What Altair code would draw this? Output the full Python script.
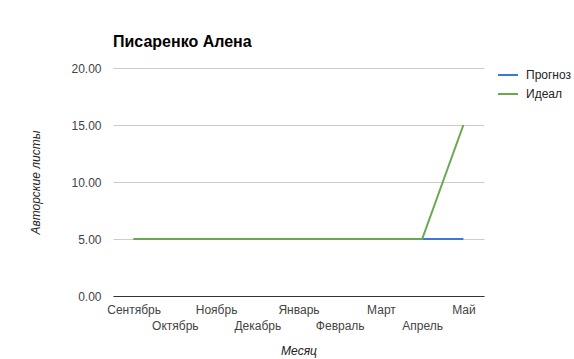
import altair as alt
import pandas as pd

months = ["Сентябрь", "Октябрь", "Ноябрь", "Декабрь", "Январь", "Февраль", "Март", "Апрель", "Май"]
forecast = [5, 5, 5, 5, 5, 5, 5, 5, 5]
ideal = [5, 5, 5, 5, 5, 5, 5, 5, 15]
series_names = ["Прогноз", "Идеал"]
colors = ["#3c78d8", "#6aa84f"]

rows = []
for m, v in zip(months, forecast):
    rows.append({"Месяц": m, "value": v, "series": series_names[0], "ord": 0})
for m, v in zip(months, ideal):
    rows.append({"Месяц": m, "value": v, "series": series_names[1], "ord": 1})
df = pd.DataFrame(rows)

FONT = "Arial, Liberation Sans"
second_row = months[1::2]
label_expr = "indexof(" + str(second_row) + ", datum.value) >= 0 ? ['', datum.value] : datum.value"

chart = alt.Chart(df).mark_line(strokeWidth=2).encode(
    x=alt.X("Месяц:N", sort=months, scale=alt.Scale(type="point", padding=0.5),
            axis=alt.Axis(title="Месяц", labelAngle=0, labelExpr=label_expr, ticks=False,
                          labelPadding=8, labelLineHeight=16, labelFontSize=12,
                          labelColor="#444", labelFont=FONT, domainColor="#333",
                          titleFont=FONT, titleFontStyle="italic", titleFontWeight="normal",
                          titleFontSize=12, titleColor="#222", titleY=54, titleBaseline="middle",
                          grid=False, labelOverlap=False)),
    y=alt.Y("value:Q", scale=alt.Scale(domain=[0, 20]),
            axis=alt.Axis(title="Авторские листы", format=".2f", values=[0, 5, 10, 15, 20],
                          ticks=False, domain=False, labelPadding=12, labelFontSize=12,
                          labelColor="#444", labelFont=FONT, gridColor="#ccc",
                          titleFont=FONT, titleFontStyle="italic", titleFontWeight="normal",
                          titleFontSize=12, titleColor="#222", titleX=-78, titleY=114,
                          titleBaseline="middle", titleAngle=-90)),
    color=alt.Color("series:N", scale=alt.Scale(domain=series_names, range=colors),
                    legend=alt.Legend(title=None, orient="none", legendX=384, legendY=-4,
                                      symbolType="stroke", symbolStrokeWidth=2, symbolSize=400,
                                      labelFont=FONT, labelFontSize=12, labelColor="#222",
                                      labelOffset=7, rowPadding=2)),
    order=alt.Order("ord:Q"),
).properties(
    width=371, height=228,
    title=alt.TitleParams("Писаренко Алена", anchor="start", frame="group", font=FONT, fontSize=16,
                          fontWeight="bold", color="#000", offset=12),
    autosize=alt.AutoSizeParams(type="none"),
    padding={"left": 113, "top": 68, "right": 90, "bottom": 63},
).configure(background="white", view=alt.ViewConfig(stroke=None))

chart.save("out.html", embed_options={"renderer": "svg", "actions": False})
